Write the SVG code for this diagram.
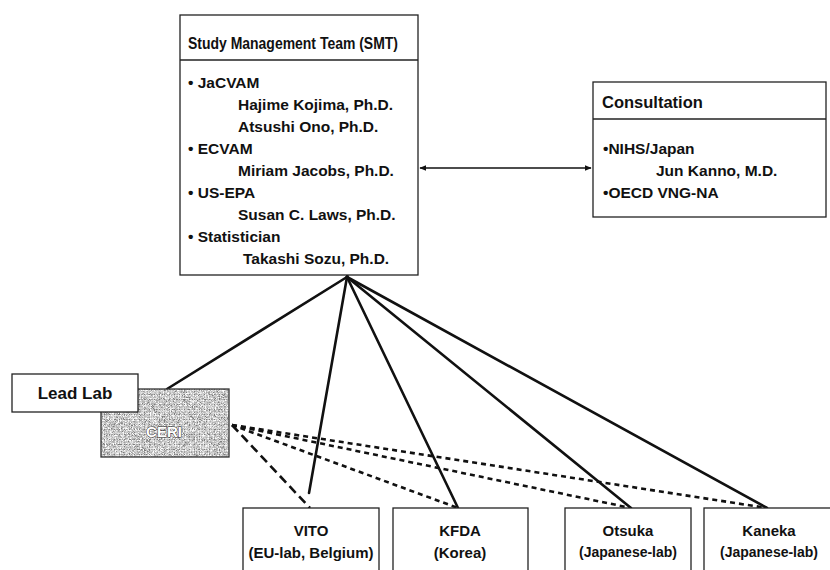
<svg xmlns="http://www.w3.org/2000/svg" width="830" height="570" viewBox="0 0 830 570">
<style>
  .box { fill: #ffffff; stroke: #222222; stroke-width: 1.3; }
  .t { font-family: "Liberation Sans", Arial, sans-serif; font-weight: bold; fill: #111111; }
  .hdr { font-size: 16.5px; }
  .body { font-size: 15.5px; }
  .lab { font-size: 15px; text-anchor: middle; }
  .sub { font-size: 14px; text-anchor: middle; }
  .solid { stroke: #111111; stroke-width: 2.6; fill: none; stroke-linecap: round; }
  .dash { stroke: #111111; stroke-width: 2.6; fill: none; stroke-dasharray: 5 4; }
  .dashL { stroke: #111111; stroke-width: 2.6; fill: none; stroke-dasharray: 9 5; }
  .arrow { stroke: #111111; stroke-width: 1.3; fill: none; }
  .ceritxt { fill: #ffffff; stroke: #222222; stroke-width: 0.9; paint-order: stroke; font-size: 15px; text-anchor: middle; }
</style>
<defs>
  <marker id="ah" viewBox="0 0 10 10" refX="9" refY="5" markerWidth="7" markerHeight="7" orient="auto-start-reverse" markerUnits="userSpaceOnUse">
    <path d="M0,1 L10,5 L0,9 Z" fill="#111111"/>
  </marker>
  <filter id="noise" x="0" y="0" width="1" height="1">
    <feTurbulence type="turbulence" baseFrequency="1.6" numOctaves="1" seed="11" result="n"/>
    <feColorMatrix in="n" type="matrix" values="0.33 0.33 0.33 0 0  0.33 0.33 0.33 0 0  0.33 0.33 0.33 0 0  0 0 0 0 1" result="g"/>
    <feComponentTransfer in="g" result="c">
      <feFuncR type="linear" slope="2.4" intercept="0.2"/>
      <feFuncG type="linear" slope="2.4" intercept="0.2"/>
      <feFuncB type="linear" slope="2.4" intercept="0.2"/>
    </feComponentTransfer>
    <feComposite in="c" in2="SourceGraphic" operator="in"/>
  </filter>
</defs>

<g id="connectors">
  <line class="solid" x1="347" y1="277" x2="167" y2="389"/>
  <line class="solid" x1="347" y1="277" x2="309" y2="493"/>
  <line class="solid" x1="347" y1="277" x2="458" y2="508"/>
  <line class="solid" x1="347" y1="277" x2="631" y2="508"/>
  <line class="solid" x1="347" y1="277" x2="767" y2="508"/>
  <line class="solid" x1="347" y1="277" x2="350" y2="262" stroke-width="2"/>
  <line class="dashL" x1="232" y1="425" x2="310" y2="508"/>
  <line class="dash" x1="232" y1="425" x2="458" y2="508"/>
  <line class="dash" x1="232" y1="425" x2="631" y2="508"/>
  <line class="dash" x1="232" y1="425" x2="767" y2="508"/>
  <line class="arrow" x1="420" y1="168" x2="591" y2="168" marker-start="url(#ah)" marker-end="url(#ah)"/>
</g>

<g id="smt">
  <rect class="box" x="180" y="15" width="238" height="260"/>
  <line x1="180" y1="60" x2="418" y2="60" stroke="#222222" stroke-width="1.3"/>
  <text class="t hdr" x="188" y="49" textLength="210" lengthAdjust="spacingAndGlyphs">Study Management Team (SMT)</text>
  <text class="t body" x="188" y="88">• JaCVAM</text>
  <text class="t body" x="238" y="110">Hajime Kojima, Ph.D.</text>
  <text class="t body" x="238" y="132">Atsushi Ono, Ph.D.</text>
  <text class="t body" x="188" y="154">• ECVAM</text>
  <text class="t body" x="238" y="176">Miriam Jacobs, Ph.D.</text>
  <text class="t body" x="188" y="198">• US-EPA</text>
  <text class="t body" x="238" y="220">Susan C. Laws, Ph.D.</text>
  <text class="t body" x="188" y="242">• Statistician</text>
  <text class="t body" x="243" y="264">Takashi Sozu, Ph.D.</text>
</g>

<g id="consultation">
  <rect class="box" x="593" y="82" width="233" height="135"/>
  <line x1="593" y1="119" x2="826" y2="119" stroke="#222222" stroke-width="1.3"/>
  <text class="t" x="602" y="108" font-size="16.5">Consultation</text>
  <text class="t body" x="603" y="154">•NIHS/Japan</text>
  <text class="t body" x="656" y="176">Jun Kanno, M.D.</text>
  <text class="t body" x="603" y="198">•OECD VNG-NA</text>
</g>

<g id="ceri">
  <rect x="101" y="389" width="128" height="68" fill="#ffffff"/>
  <rect x="101" y="389" width="128" height="68" fill="#999999" filter="url(#noise)"/>
  <rect x="101" y="389" width="128" height="68" fill="none" stroke="#333333" stroke-width="1.3"/>
  <text class="t ceritxt" x="164" y="437">CERI</text>
</g>

<g id="leadlab">
  <rect class="box" x="12" y="374" width="126" height="38"/>
  <text class="t" x="75" y="399" font-size="17" text-anchor="middle">Lead Lab</text>
</g>

<g id="vito">
  <rect class="box" x="243" y="508" width="136" height="70"/>
  <text class="t lab" x="311" y="536">VITO</text>
  <text class="t lab" x="311" y="558">(EU-lab, Belgium)</text>
</g>

<g id="kfda">
  <rect class="box" x="393" y="508" width="135" height="70"/>
  <text class="t lab" x="460" y="536">KFDA</text>
  <text class="t lab" x="460" y="558">(Korea)</text>
</g>

<g id="otsuka">
  <rect class="box" x="565" y="508" width="126" height="70"/>
  <text class="t lab" x="628" y="536">Otsuka</text>
  <text class="t sub" x="628" y="557">(Japanese-lab)</text>
</g>

<g id="kaneka">
  <rect class="box" x="704" y="508" width="135" height="70"/>
  <text class="t lab" x="769" y="536">Kaneka</text>
  <text class="t sub" x="769" y="557">(Japanese-lab)</text>
</g>
</svg>
